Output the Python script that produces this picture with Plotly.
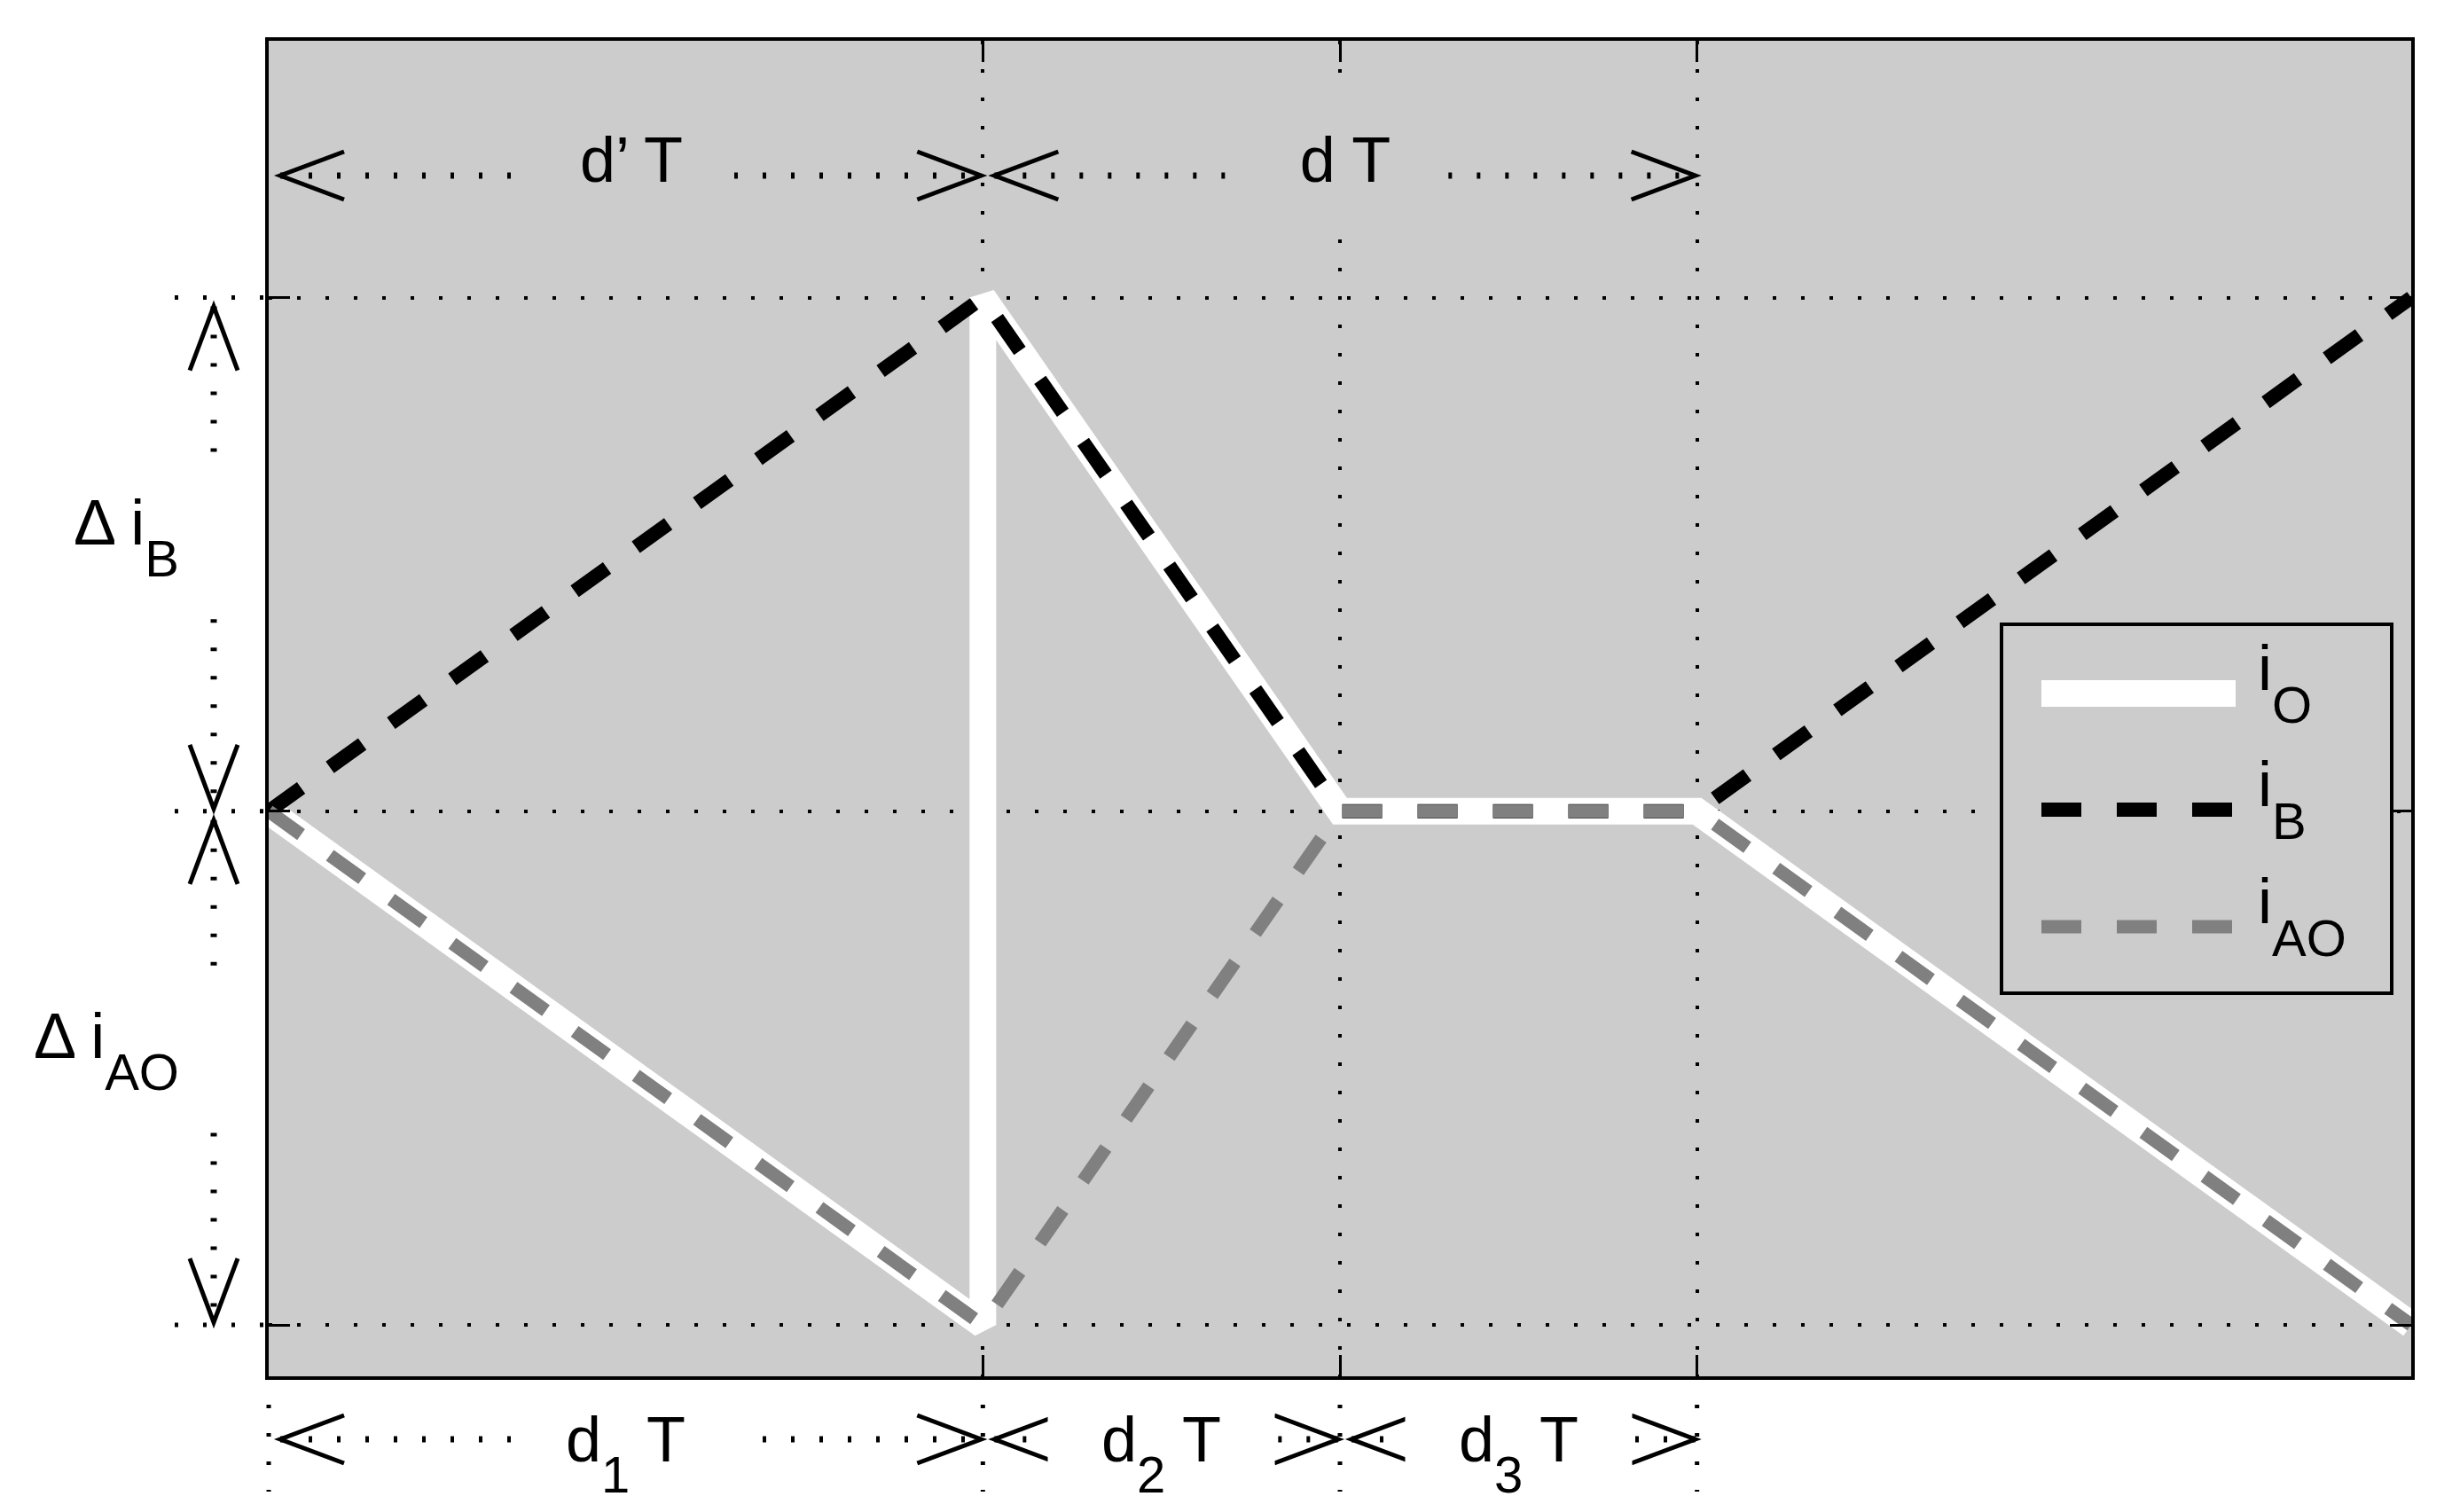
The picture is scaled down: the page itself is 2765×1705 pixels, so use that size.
"""
Boost converter ripple currents i_O, i_B, i_AO over one switching period.
"""

import plotly.graph_objects as go

# time in units of T, currents normalised to the ripple half-amplitude
t_o = [0, 1, 1, 1.5, 2, 3]
i_o = [0, -1, 1, 0, 0, -1]
t_b = [0, 1, 1.5, 2, 3]
i_b = [0, 1, 0, 0, 1]
t_ao = [0, 1, 1.5, 2, 3]
i_ao = [0, -1, 0, 0, -1]

x_grid = [1, 1.5, 2]
y_grid = [-1, 0, 1]

# dimension annotations: (start, end, label / subscript)
top_spans = [(0, 1, "d’ T"), (1, 2, "d T")]
bottom_spans = [(0, 1, "1"), (1, 1.5, "2"), (1.5, 2, "3")]
left_spans = [(1, 0, "B"), (0, -1, "AO")]

series_names = ["O", "B", "AO"]

# ---- page geometry (px, page coordinates; body has an 8px margin) ----
PAGE_W, PAGE_H, OFF = 2765, 1705, 8
PLOT_L, PLOT_R, PLOT_T, PLOT_B = 303, 2719, 46, 1552
PW = PLOT_R - PLOT_L
PH = PLOT_B - PLOT_T
X_RANGE = [0, 3]
Y_RANGE = [-1.1, 1.5]

FONT = "Liberation Sans, Arial, Helvetica, sans-serif"
BG = "#cccccc"
DOTS = "4px,28px"


def px_x(x):
    return PLOT_L + (x - X_RANGE[0]) / (X_RANGE[1] - X_RANGE[0]) * PW


def px_y(y):
    return PLOT_T + (Y_RANGE[1] - y) / (Y_RANGE[1] - Y_RANGE[0]) * PH


def paper(px, py):
    return (px - PLOT_L) / PW, 1 - (py - PLOT_T) / PH


shapes = []
annotations = []


def seg(p0, p1, width, dash="solid", color="black"):
    x0, y0 = paper(*p0)
    x1, y1 = paper(*p1)
    shapes.append(dict(type="line", xref="paper", yref="paper",
                       x0=x0, y0=y0, x1=x1, y1=y1,
                       line=dict(color=color, width=width, dash=dash)))


def chevron(tip, direction, arm=72, spread=27):
    tx, ty = tip
    if direction == "left":
        a1, a2 = (tx + arm, ty - spread), (tx + arm, ty + spread)
    elif direction == "right":
        a1, a2 = (tx - arm, ty - spread), (tx - arm, ty + spread)
    elif direction == "up":
        a1, a2 = (tx - spread, ty + arm), (tx + spread, ty + arm)
    else:
        a1, a2 = (tx - spread, ty - arm), (tx + spread, ty - arm)
    pts = [paper(*a1), paper(tx, ty), paper(*a2)]
    path = "M{},{} L{},{} L{},{}".format(*[v for p in pts for v in p])
    shapes.append(dict(type="path", xref="paper", yref="paper", path=path,
                       line=dict(color="black", width=5)))


def label(px, py, text, xanchor="center", bg=None, w=None, h=None):
    x, y = paper(px, py)
    ann = dict(xref="paper", yref="paper", x=x, y=y, text=text,
               showarrow=False, xanchor=xanchor, yanchor="middle",
               font=dict(family=FONT, size=72, color="black"), borderpad=0)
    if bg:
        ann.update(bgcolor=bg, width=w, height=h, align="center", valign="middle")
    annotations.append(ann)


def sub(main, s, shift=36):
    return f"{main}<span style='font-size:58px;baseline-shift:-{shift}px'>{s}</span>"


fig = go.Figure()

# thick white output current first, the dashed ones on top
fig.add_trace(go.Scatter(x=t_o, y=i_o, mode="lines", name="i_O",
                         line=dict(color="white", width=30)))
fig.add_trace(go.Scatter(x=t_b, y=i_b, mode="lines", name="i_B",
                         line=dict(color="black", width=16, dash="45px,40px")))
fig.add_trace(go.Scatter(x=t_ao, y=i_ao, mode="lines", name="i_AO",
                         line=dict(color="#808080", width=15, dash="45px,40px")))

# extension lines outside the axes
for yv in y_grid:
    seg((197, px_y(yv)), (PLOT_L, px_y(yv)), 5, DOTS)
for xv in [0] + x_grid:
    seg((px_x(xv), PLOT_B), (px_x(xv), 1682), 5, DOTS)

# horizontal dimension rows
TOP_ROW, BOT_ROW, LEFT_COL = 198, 1623, 241
for a, b, txt in top_spans:
    xa, xb = px_x(a) + 13, px_x(b) - 2
    seg((xa, TOP_ROW), (xb, TOP_ROW), 7, DOTS)
    chevron((xa, TOP_ROW), "left")
    chevron((xb, TOP_ROW), "right")
    label((px_x(a) + px_x(b)) / 2 + 6, TOP_ROW - 19, txt, bg=BG, w=220, h=165)

for a, b, s in bottom_spans:
    xa, xb = px_x(a) + 13, px_x(b) - 2
    seg((xa, BOT_ROW), (xb, BOT_ROW), 7, DOTS)
    chevron((xa, BOT_ROW), "left")
    chevron((xb, BOT_ROW), "right")
    label((px_x(a) + px_x(b)) / 2, BOT_ROW + 16, sub("d", s, 35) + " T",
          bg="white", w=255, h=120)

# vertical dimension column, dotted line broken around the text
for a, b, s in left_spans:
    ya, yb = px_y(a) + 10, px_y(b) - 3
    base = (px_y(a) + px_y(b)) / 2 - 12
    seg((LEFT_COL, ya), (LEFT_COL, base - 90), 7, DOTS)
    seg((LEFT_COL, base + 85), (LEFT_COL, yb), 7, DOTS)
    chevron((LEFT_COL, ya), "up")
    chevron((LEFT_COL, yb), "down")
    label(203, base - 8, sub("Δ i", s), xanchor="right")

# legend box drawn by hand (long line samples like the original)
LEG = (2257, 704, 2697, 1120)
lx0, ly0 = paper(LEG[0], LEG[1])
lx1, ly1 = paper(LEG[2], LEG[3])
shapes.append(dict(type="rect", xref="paper", yref="paper",
                   x0=lx0, y0=ly0, x1=lx1, y1=ly1,
                   fillcolor=BG, line=dict(color="black", width=4)))
row_y = [782, 913, 1045]
for tr, s, ry in zip(fig.data, series_names, row_y):
    seg((2302, ry), (2521, ry), tr.line.width, tr.line.dash or "solid", tr.line.color)
    label(2545, ry - 12, sub("i", s, 37), xanchor="left")

fig_w, fig_h = PAGE_W - 2 * OFF, PAGE_H - 2 * OFF
fig.update_layout(
    width=fig_w,
    height=fig_h,
    margin=dict(l=PLOT_L - OFF, r=fig_w + OFF - PLOT_R,
                t=PLOT_T - OFF, b=fig_h + OFF - PLOT_B, pad=0),
    plot_bgcolor=BG,
    paper_bgcolor="white",
    showlegend=False,
    font=dict(family=FONT, size=72, color="black"),
    shapes=shapes,
    annotations=annotations,
)

axis_style = dict(
    showline=True, linecolor="black", linewidth=4, mirror="ticks",
    ticks="inside", ticklen=24, tickwidth=3, tickcolor="black",
    showticklabels=False, zeroline=False,
    showgrid=True, gridcolor="black", gridwidth=4, griddash=DOTS,
)
fig.update_xaxes(range=X_RANGE, tickvals=x_grid, **axis_style)
fig.update_yaxes(range=Y_RANGE, tickvals=y_grid, **axis_style)

fig.write_html("out.html")
